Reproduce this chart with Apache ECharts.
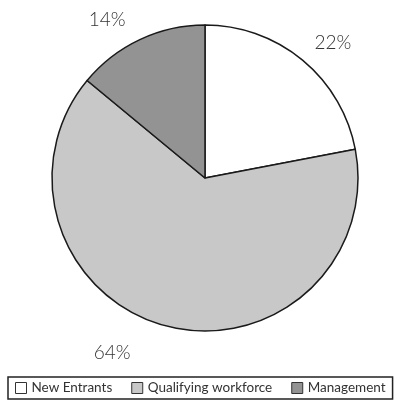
<!DOCTYPE html>
<html>
<head>
    <meta charset="utf-8">
    <title>pie</title>
    <script src="https://cdn.jsdelivr.net/npm/echarts@6/dist/echarts.min.js"></script>
    <style>
        html, body { margin: 0; padding: 0; background: #fff; }
        #main { width: 401px; height: 406px; }
    </style>
</head>
<body>
<div id="main"></div>
<script>
    var categories = ['New Entrants', 'Qualifying workforce', 'Management'];
    var values = [22, 64, 14];
    var colors = ['#ffffff', '#c8c8c8', '#939393'];

    // nudges so the labels sit where the original put them
    var labelShift = [[-7, 0], [-26, 5], [0, 0]];

    var myChart = echarts.init(document.getElementById('main'));

    var pieData = categories.map(function (name, i) {
        return {name: name, value: values[i], itemStyle: {color: colors[i]}};
    });

    myChart.setOption({
        animation: false,
        legend: {
            left: 8,
            top: 377,
            orient: 'horizontal',
            icon: 'rect',
            itemWidth: 11,
            itemHeight: 11,
            itemGap: 19,
            padding: [4, 7, 4, 7],
            borderColor: '#222',
            borderWidth: 1.5,
            textStyle: {fontFamily: 'Lato', fontSize: 13.5, color: '#333'},
            data: categories,
            itemStyle: {borderColor: '#333', borderWidth: 1}
        },
        series: [{
            type: 'pie',
            center: [205, 178],
            radius: 153,
            startAngle: 90,
            clockwise: true,
            data: pieData,
            itemStyle: {borderColor: '#1a1a1a', borderWidth: 1.5},
            label: {
                show: true,
                position: 'outside',
                formatter: '{c}%',
                fontFamily: 'Lato',
                fontWeight: 300,
                fontSize: 19,
                color: '#333'
            },
            labelLine: {show: false, length: 22, length2: 0},
            labelLayout: function (params) {
                var s = labelShift[params.dataIndex];
                return {dx: s[0], dy: s[1]};
            },
            emphasis: {disabled: true}
        }]
    });
</script>
</body>
</html>
